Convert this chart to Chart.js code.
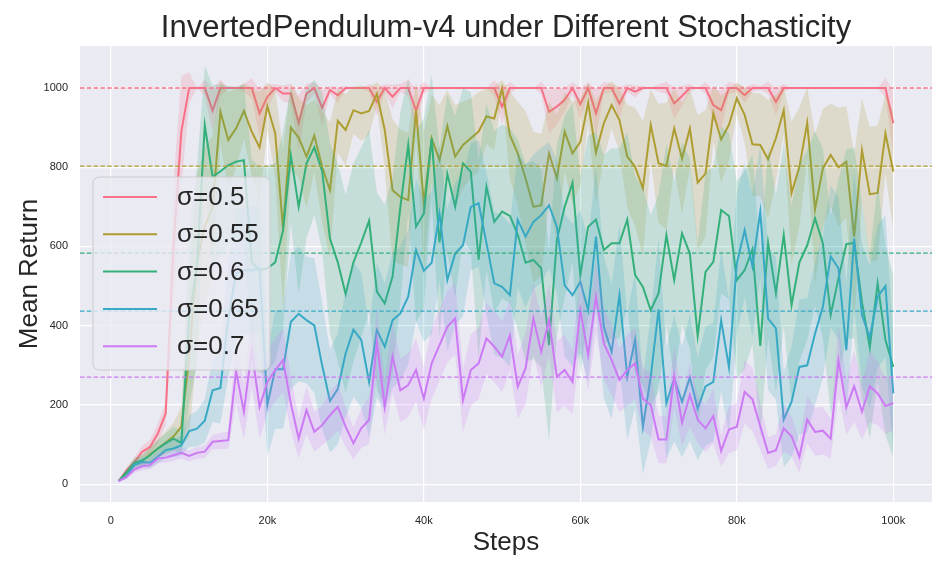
<!DOCTYPE html>
<html>
<head>
<meta charset="utf-8">
<script src="https://cdn.jsdelivr.net/npm/chart.js@4.4.0/dist/chart.umd.min.js"></script>
<style>
  html, body { margin: 0; padding: 0; background: #ffffff; }
  #wrap { width: 947px; height: 568px; }
</style>
</head>
<body>
<div id="wrap"><canvas id="lineChart"></canvas></div>
<script>
// evaluation steps, in thousands
const stepsK = [1, 2, 3, 4, 5, 6, 7, 8, 9, 10, 11, 12, 13, 14, 15, 16, 17, 18,
    19, 20, 21, 22, 23, 24, 25, 26, 27, 28, 29, 30, 31, 32, 33, 34, 35, 36, 37,
    38, 39, 40, 41, 42, 43, 44, 45, 46, 47, 48, 49, 50, 51, 52, 53, 54, 55, 56,
    57, 58, 59, 60, 61, 62, 63, 64, 65, 66, 67, 68, 69, 70, 71, 72, 73, 74, 75,
    76, 77, 78, 79, 80, 81, 82, 83, 84, 85, 86, 87, 88, 89, 90, 91, 92, 93, 94,
    95, 96, 97, 98, 99, 100];

const sigmaLabels = ['σ=0.5', 'σ=0.55', 'σ=0.6', 'σ=0.65', 'σ=0.7'];
const sigmaColors = ['#f77189', '#ae9d31', '#33b07a', '#38a9c5', '#cc7af4'];

// mean return per sigma
const ret05 = [8, 35, 56, 82, 94, 128, 178, 600, 890, 1000,
    1000, 1000, 943, 1000, 1000, 1000, 1000, 1000, 936, 978,
    1000, 986, 986, 912, 986, 1000, 950, 995, 982, 1000,
    1000, 1000, 1000, 965, 1000, 978, 1000, 1000, 943, 1000,
    1000, 1000, 1000, 1000, 1000, 1000, 1000, 1000, 1000, 953,
    1000, 1000, 1000, 1000, 1000, 940, 953, 970, 1000, 959,
    1000, 936, 1000, 1000, 961, 1000, 991, 1000, 1000, 1000,
    1000, 961, 980, 1000, 1000, 1000, 957, 944, 1000, 1000,
    982, 1000, 1000, 1000, 965, 1000, 1000, 1000, 1000, 1000,
    1000, 1000, 1000, 1000, 1000, 1000, 1000, 1000, 1000, 911];
const ret055 = [8, 28, 50, 58, 75, 90, 105, 120, 145, 320,
    560, 650, 700, 940, 869, 898, 942, 890, 850, 954,
    886, 645, 900, 875, 827, 880, 801, 742, 917, 894,
    944, 936, 942, 985, 894, 742, 725, 717, 944, 709,
    873, 818, 904, 827, 856, 873, 890, 928, 923, 999,
    881, 835, 772, 700, 704, 835, 772, 890, 835, 864,
    963, 837, 911, 957, 919, 827, 801, 747, 907, 810,
    803, 898, 822, 898, 761, 784, 936, 870, 907, 974,
    932, 858, 856, 820, 873, 944, 735, 801, 912, 694,
    797, 831, 800, 814, 625, 843, 732, 735, 885, 789];
const ret06 = [8, 30, 54, 60, 73, 90, 103, 115, 104, 420,
    550, 906, 776, 790, 805, 814, 818, 560, 540, 545,
    560, 640, 830, 700, 810, 850, 790, 620, 560, 480,
    560, 610, 665, 486, 456, 524, 700, 856, 650, 683,
    873, 610, 784, 700, 810, 789, 567, 751, 662, 688,
    677, 630, 559, 566, 545, 351, 616, 700, 761, 528,
    650, 668, 591, 608, 608, 668, 528, 498, 439, 482,
    629, 515, 633, 582, 374, 536, 561, 692, 677, 515,
    540, 593, 349, 609, 482, 629, 452, 560, 603, 671,
    608, 427, 520, 606, 609, 460, 345, 507, 364, 296];
const ret065 = [8, 20, 48, 56, 54, 69, 86, 90, 98, 134,
    140, 160, 237, 243, 420, 532, 540, 540, 545, 200,
    290, 290, 410, 430, 414, 401, 300, 210, 240, 330,
    390, 364, 258, 389, 347, 414, 431, 473, 591, 539,
    559, 683, 515, 582, 603, 700, 709, 609, 507, 498,
    477, 667, 625, 662, 679, 704, 650, 502, 477, 511,
    439, 625, 397, 334, 477, 271, 364, 145, 271, 441,
    204, 267, 208, 269, 191, 247, 258, 414, 295, 557,
    641, 550, 688, 418, 393, 163, 208, 296, 300, 380,
    448, 575, 545, 338, 620, 427, 370, 473, 500, 229];
const ret07 = [8, 18, 37, 45, 48, 65, 67, 73, 79, 71,
    79, 82, 107, 109, 111, 284, 183, 338, 195, 258,
    288, 313, 204, 115, 187, 132, 149, 174, 195, 145,
    103, 141, 162, 359, 195, 322, 237, 250, 288, 216,
    305, 351, 397, 418, 212, 288, 305, 368, 347, 322,
    376, 246, 292, 418, 334, 414, 271, 288, 258, 439,
    326, 473, 355, 313, 263, 288, 305, 216, 200, 113,
    113, 273, 155, 225, 163, 141, 172, 84, 138, 145,
    233, 214, 146, 79, 86, 141, 121, 69, 163, 132,
    135, 115, 313, 194, 247, 183, 247, 229, 197, 205];

// half width of the shaded band per sigma
const spread05 = [2, 8, 12, 15, 18, 25, 30, 160, 140, 40,
    0, 20, 55, 20, 0, 0, 10, 25, 60, 30,
    10, 20, 25, 70, 25, 15, 45, 10, 20, 5,
    0, 0, 10, 35, 10, 30, 10, 20, 55, 15,
    0, 0, 0, 0, 0, 0, 0, 0, 20, 45,
    15, 0, 0, 0, 15, 55, 45, 30, 15, 40,
    15, 60, 15, 10, 40, 10, 15, 5, 0, 10,
    15, 40, 25, 10, 0, 15, 40, 50, 15, 10,
    20, 10, 5, 15, 35, 10, 0, 0, 0, 0,
    0, 0, 0, 0, 0, 0, 0, 0, 25, 80];
const spread055 = [2, 8, 12, 14, 18, 22, 28, 35, 50, 200,
    220, 200, 180, 80, 120, 100, 70, 110, 140, 60,
    110, 200, 110, 100, 130, 90, 140, 170, 80, 90,
    60, 70, 60, 30, 100, 180, 170, 170, 70, 180,
    110, 140, 90, 130, 110, 100, 100, 70, 80, 20,
    110, 130, 170, 190, 180, 130, 160, 100, 130, 110,
    50, 130, 90, 60, 80, 130, 150, 170, 90, 150,
    160, 100, 140, 100, 170, 160, 70, 110, 90, 40,
    70, 130, 130, 150, 110, 60, 180, 150, 90, 190,
    150, 130, 150, 140, 210, 130, 170, 170, 100, 150];
const spread06 = [2, 8, 12, 15, 18, 22, 25, 30, 30, 220,
    250, 150, 230, 220, 200, 190, 190, 260, 260, 260,
    250, 250, 170, 220, 190, 170, 200, 240, 250, 250,
    250, 240, 230, 250, 250, 250, 240, 170, 240, 240,
    160, 240, 200, 230, 190, 200, 250, 210, 230, 220,
    220, 240, 250, 250, 250, 240, 240, 230, 200, 250,
    230, 220, 240, 240, 240, 220, 250, 250, 240, 250,
    230, 250, 230, 240, 230, 250, 240, 210, 210, 250,
    250, 240, 230, 240, 250, 230, 250, 250, 240, 220,
    240, 250, 250, 240, 240, 250, 230, 250, 240, 230];
const spread065 = [2, 6, 10, 12, 14, 16, 20, 22, 25, 40,
    45, 55, 80, 90, 150, 160, 160, 160, 160, 130,
    150, 150, 170, 170, 160, 170, 160, 130, 140, 160,
    170, 170, 140, 170, 160, 170, 170, 170, 180, 180,
    180, 170, 180, 180, 180, 160, 160, 180, 180, 180,
    180, 170, 180, 170, 170, 160, 170, 180, 180, 180,
    180, 180, 180, 170, 180, 160, 170, 120, 160, 180,
    140, 160, 140, 160, 130, 150, 150, 180, 170, 180,
    170, 180, 170, 180, 180, 120, 140, 170, 170, 180,
    180, 180, 180, 170, 170, 180, 180, 180, 180, 150];
const spread07 = [2, 5, 8, 10, 10, 12, 12, 14, 14, 14,
    15, 16, 18, 20, 22, 80, 70, 90, 80, 80,
    80, 80, 70, 50, 60, 50, 50, 60, 60, 50,
    40, 50, 60, 90, 70, 90, 80, 80, 80, 80,
    90, 90, 90, 90, 80, 90, 90, 90, 90, 90,
    90, 80, 90, 90, 90, 90, 90, 90, 80, 90,
    90, 90, 90, 90, 80, 90, 90, 80, 80, 60,
    60, 80, 60, 80, 60, 60, 70, 40, 60, 60,
    80, 80, 60, 40, 40, 60, 50, 40, 60, 60,
    60, 50, 90, 70, 90, 70, 90, 80, 70, 70];

// dashed reference level per sigma
const finalLevels = [1000, 803, 583, 437, 270];

const xTickValues = [0, 20000, 40000, 60000, 80000, 100000];
const xTickLabels = ['0', '20k', '40k', '60k', '80k', '100k'];
const yTickValues = [0, 200, 400, 600, 800, 1000];
const yTickLabels = ['0', '200', '400', '600', '800', '1000'];

const FONT = '"Liberation Sans", Arial, sans-serif';
const TEXT = '#262626';
const X_MIN = -3950, X_MAX = 104950;

function alpha(hex, a) {
    const n = parseInt(hex.slice(1), 16);
    return `rgba(${(n >> 16) & 255}, ${(n >> 8) & 255}, ${n & 255}, ${a})`;
}

const means = [ret05, ret055, ret06, ret065, ret07];
const spreads = [spread05, spread055, spread06, spread065, spread07];

// seaborn draws band then line, series after series; order: higher drawn first
const datasets = [];
means.forEach((m, i) => {
    const col = sigmaColors[i];
    const up = stepsK.map((k, j) => ({ x: k * 1000, y: m[j] + spreads[i][j] }));
    const lo = stepsK.map((k, j) => ({ x: k * 1000, y: m[j] - spreads[i][j] }));
    datasets.push({
        data: up, borderWidth: 0, borderColor: 'rgba(0,0,0,0)', pointRadius: 0,
        fill: false, order: 1000 - 3 * i
    });
    datasets.push({
        data: lo, borderWidth: 0, borderColor: 'rgba(0,0,0,0)', pointRadius: 0,
        fill: '-1', backgroundColor: alpha(col, 0.2), order: 999 - 3 * i
    });
    datasets.push({
        label: sigmaLabels[i],
        data: stepsK.map((k, j) => ({ x: k * 1000, y: m[j] })),
        borderColor: col, borderWidth: 2, pointRadius: 0, fill: false,
        order: 998 - 3 * i
    });
});
finalLevels.forEach((v, i) => {
    datasets.push({
        data: [{ x: X_MIN, y: v }, { x: X_MAX, y: v }],
        borderColor: sigmaColors[i], borderWidth: 1.3, borderDash: [4.5, 2.3],
        pointRadius: 0, fill: false, order: 10 - i
    });
});

const plotBackground = {
    id: 'plotBackground',
    beforeDraw(chart) {
        const { ctx, chartArea: a } = chart;
        ctx.save();
        ctx.fillStyle = '#eaeaf2';
        ctx.fillRect(a.left, a.top, a.width, a.height);
        ctx.restore();
    }
};

// legend drawn inside the axes, like matplotlib's
const insideLegend = {
    id: 'insideLegend',
    afterDraw(chart) {
        const { ctx, chartArea: a } = chart;
        const x0 = a.left + 13, y0 = a.top + 131, w = 177, h = 193, r = 6;
        ctx.save();
        ctx.beginPath();
        ctx.roundRect(x0, y0, w, h, r);
        ctx.fillStyle = 'rgba(234, 234, 242, 0.8)';
        ctx.fill();
        ctx.strokeStyle = '#cccccc';
        ctx.lineWidth = 1;
        ctx.stroke();
        ctx.font = '26px ' + FONT;
        ctx.textBaseline = 'middle';
        ctx.fillStyle = TEXT;
        sigmaLabels.forEach((lab, i) => {
            const y = y0 + 20 + i * 37.3;
            ctx.beginPath();
            ctx.moveTo(x0 + 10, y);
            ctx.lineTo(x0 + 64, y);
            ctx.strokeStyle = sigmaColors[i];
            ctx.lineWidth = 2;
            ctx.stroke();
            ctx.fillText(lab, x0 + 84, y + 1);
        });
        ctx.restore();
    }
};

document.addEventListener('DOMContentLoaded', function() {
    new Chart(document.getElementById('lineChart').getContext('2d'), {
        type: 'line',
        data: { datasets },
        plugins: [plotBackground, insideLegend],
        options: {
            responsive: true,
            maintainAspectRatio: false,
            animation: false,
            layout: { padding: { left: 0, right: 15, top: 0, bottom: 0 } },
            elements: { line: { tension: 0 } },
            plugins: {
                legend: { display: false },
                tooltip: { enabled: false },
                title: {
                    display: true,
                    fullSize: false,
                    text: 'InvertedPendulum-v4 under Different Stochasticity',
                    color: TEXT,
                    font: { family: FONT, size: 31, weight: 'normal', lineHeight: 1.0 },
                    padding: { top: 13, bottom: 2 }
                }
            },
            scales: {
                x: {
                    type: 'linear', min: X_MIN, max: X_MAX,
                    grid: { color: '#ffffff', lineWidth: 1.2, drawTicks: false },
                    border: { display: false },
                    afterBuildTicks(s) { s.ticks = xTickValues.map(v => ({ value: v })); },
                    afterFit(s) { s.height = 66; },
                    ticks: {
                        autoSkip: false, maxRotation: 0, padding: 12, color: TEXT,
                        font: { family: FONT, size: 11 },
                        callback: (v, idx) => xTickLabels[idx]
                    },
                    title: {
                        display: true, text: 'Steps', color: TEXT,
                        font: { family: FONT, size: 26 },
                        padding: { top: 0, bottom: 10 }
                    }
                },
                y: {
                    type: 'linear', min: -45, max: 1106,
                    grid: { color: '#ffffff', lineWidth: 1.2, drawTicks: false },
                    border: { display: false },
                    afterBuildTicks(s) { s.ticks = yTickValues.map(v => ({ value: v })); },
                    afterFit(s) { s.width = 80; },
                    ticks: {
                        autoSkip: false, padding: 12, color: TEXT,
                        font: { family: FONT, size: 11 },
                        callback: (v, idx) => yTickLabels[idx]
                    },
                    title: {
                        display: true, text: 'Mean Return', color: TEXT,
                        font: { family: FONT, size: 26 },
                        padding: { top: 14, bottom: 0 }
                    }
                }
            }
        }
    });
});
</script>
</body>
</html>
